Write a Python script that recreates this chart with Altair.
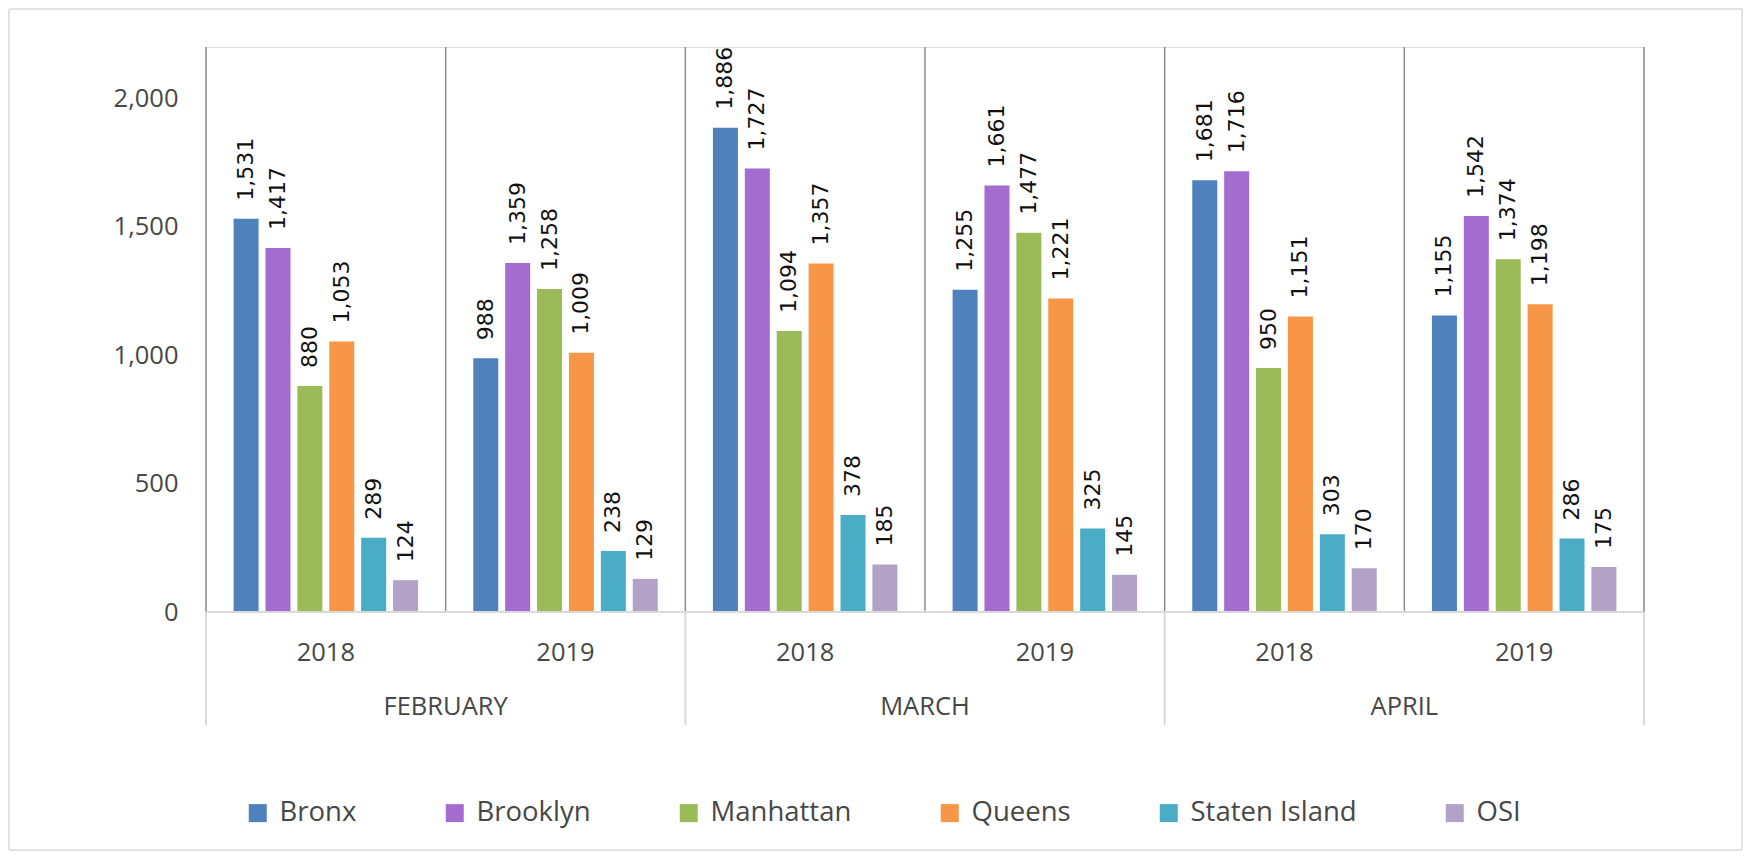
import altair as alt
import pandas as pd

# ---- data ----
boroughs = ["Bronx", "Brooklyn", "Manhattan", "Queens", "Staten Island", "OSI"]
months = ["FEBRUARY", "MARCH", "APRIL"]
years = ["2018", "2019"]

bronx = [1531, 988, 1886, 1255, 1681, 1155]
brooklyn = [1417, 1359, 1727, 1661, 1716, 1542]
manhattan = [880, 1258, 1094, 1477, 950, 1374]
queens = [1053, 1009, 1357, 1221, 1151, 1198]
staten_island = [289, 238, 378, 325, 303, 286]
osi = [124, 129, 185, 145, 170, 175]

colors = ["#4F81BD", "#A56CD0", "#9BBB59", "#F79646", "#4BACC6", "#B3A2C7"]
y_ticks = [0, 500, 1000, 1500, 2000]

# ---- layout (pixels) ----
PL, PT = 198, 39
W, H = 1438, 565
TW, TH = 1736, 844
PR, PB = TW - PL - W, TH - PT - H

series = [bronx, brooklyn, manhattan, queens, staten_island, osi]
groups = [f"{m} {y}" for m in months for y in years]

rows = []
for b, vals in zip(boroughs, series):
    for g, v in zip(groups, vals):
        rows.append({"grp": g, "borough": b, "value": v})
df = pd.DataFrame(rows)

grp_df = pd.DataFrame({
    "grp": groups,
    "year": [y for m in months for y in years],
    "month": [m for m in months for y in years],
})
month_df = pd.DataFrame({"grp": [f"{m} {years[1]}" for m in months], "month": months})
month_start_df = pd.DataFrame({"grp": [f"{m} {years[0]}" for m in months]})

xscale = alt.Scale(domain=groups, paddingInner=0, paddingOuter=0)
yscale = alt.Scale(domain=[0, 2200], nice=False, zero=True)
offscale = alt.Scale(domain=boroughs, paddingInner=0.216, paddingOuter=0.865)
cscale = alt.Scale(domain=boroughs, range=colors)

FONT = "Open Sans"
LBL = "#474747"

# dark separators between groups (plot area)
sep = alt.Chart(grp_df).mark_rule(color="#8c8c8c", strokeWidth=1.5).encode(
    x=alt.X("grp:N", scale=xscale, bandPosition=0, axis=None),
    y=alt.value(0), y2=alt.value(H),
)
sep_end = alt.Chart(grp_df.tail(1)).mark_rule(color="#8c8c8c", strokeWidth=1.5).encode(
    x=alt.X("grp:N", scale=xscale, bandPosition=1, axis=None),
    y=alt.value(0), y2=alt.value(H),
)
# light month separators under the axis
msep = alt.Chart(month_start_df).mark_rule(color="#d9d9d9", strokeWidth=2).encode(
    x=alt.X("grp:N", scale=xscale, bandPosition=0, axis=None),
    y=alt.value(H), y2=alt.value(H + 113),
)
msep_end = alt.Chart(grp_df.tail(1)).mark_rule(color="#d9d9d9", strokeWidth=2).encode(
    x=alt.X("grp:N", scale=xscale, bandPosition=1, axis=None),
    y=alt.value(H), y2=alt.value(H + 113),
)

bars = alt.Chart(df).mark_bar().encode(
    x=alt.X("grp:N", scale=xscale, axis=None),
    xOffset=alt.XOffset("borough:N", scale=offscale),
    y=alt.Y("value:Q", scale=yscale, title=None,
            axis=alt.Axis(values=y_ticks, format=",.0f", domain=False, ticks=False,
                          tickSize=0, grid=False, labelPadding=28,
                          labelFont=FONT, labelFontSize=25.5, labelColor=LBL)),
    color=alt.Color("borough:N", scale=cscale,
                    legend=alt.Legend(title=None, orient="none", legendX=38, legendY=752,
                                      direction="horizontal", columns=6, columnPadding=84,
                                      symbolType="square", symbolSize=324,
                                      symbolStrokeWidth=0, labelFont=FONT,
                                      labelFontSize=27.5, labelColor=LBL,
                                      labelOffset=8, labelLimit=0)),
)

labels = alt.Chart(df).mark_text(angle=270, align="left", baseline="middle", dx=18,
                                 font="DejaVu Sans", fontSize=22, color="#111111").encode(
    x=alt.X("grp:N", scale=xscale, axis=None),
    xOffset=alt.XOffset("borough:N", scale=offscale),
    y=alt.Y("value:Q", scale=yscale),
    text=alt.Text("value:Q", format=",.0f"),
)

axis_line = alt.Chart(grp_df.head(1)).mark_rule(color="#d9d9d9", strokeWidth=2).encode(
    x=alt.value(0), x2=alt.value(W), y=alt.value(H),
)

year_text = alt.Chart(grp_df).mark_text(font=FONT, fontSize=25.5, color=LBL,
                                        baseline="middle").encode(
    x=alt.X("grp:N", scale=xscale, axis=None),
    y=alt.value(H + 41),
    text="year:N",
)
month_text = alt.Chart(month_df).mark_text(font=FONT, fontSize=25.5, color=LBL,
                                           baseline="middle").encode(
    x=alt.X("grp:N", scale=xscale, bandPosition=0, axis=None),
    y=alt.value(H + 95),
    text="month:N",
)

# outer frame of the figure
bl, br, bt, bb = -PL + 1, TW - PL - 2, -PT + 1, TH - PT - 2
frame_v = alt.Chart(pd.DataFrame({"k": [0]})).mark_rule(color="#d9d9d9", strokeWidth=1.5)
frame = [
    frame_v.encode(x=alt.value(bl), y=alt.value(bt), y2=alt.value(bb)),
    frame_v.encode(x=alt.value(br), y=alt.value(bt), y2=alt.value(bb)),
    frame_v.encode(x=alt.value(bl), x2=alt.value(br), y=alt.value(bt)),
    frame_v.encode(x=alt.value(bl), x2=alt.value(br), y=alt.value(bb)),
]

chart = alt.layer(
    sep, sep_end, msep, msep_end, bars, axis_line, labels, year_text, month_text, *frame
).properties(
    width=W, height=H,
    padding={"left": PL, "top": PT, "right": PR, "bottom": PB},
    autosize=alt.AutoSizeParams(type="none"),
).configure_view(stroke=None).configure(background="white")

chart.save("out.html", embed_options={"renderer": "svg", "actions": False})
